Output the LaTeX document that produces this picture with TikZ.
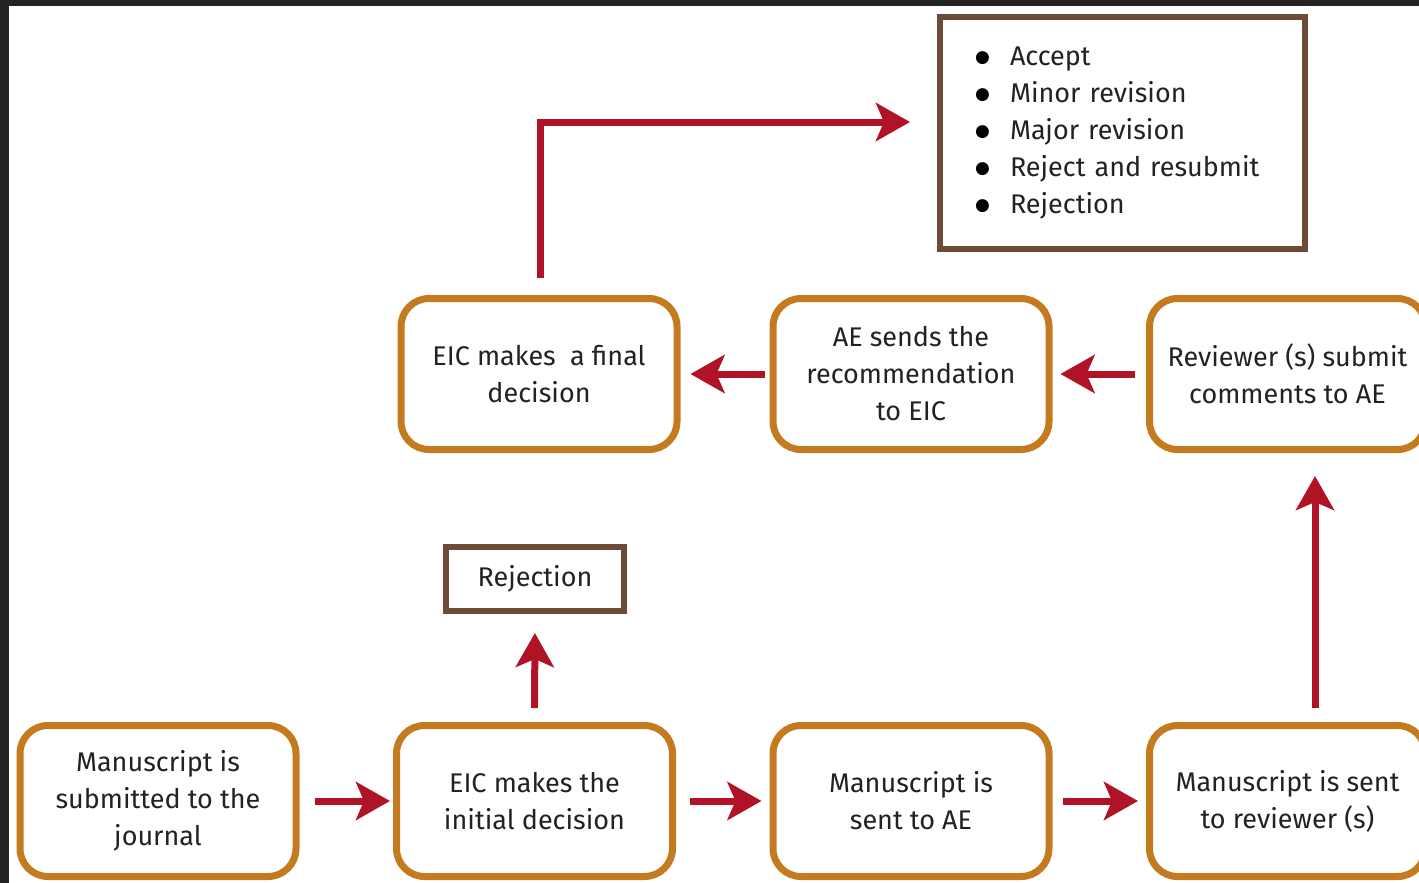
\documentclass[tikz,border=0pt]{standalone}
\usepackage{fontspec}
\setmainfont{Fira Sans}
\newfontfamily\symbolfont{DejaVu Sans}
\usetikzlibrary{arrows.meta}
\definecolor{frame}{HTML}{232323}
\definecolor{stepline}{HTML}{C47A1F}
\definecolor{outline}{HTML}{6E4B38}
\definecolor{flow}{HTML}{B01226}
\definecolor{ink}{HTML}{222222}
% round list bullet followed by a fixed gap
\newcommand{\itembullet}{\makebox[35pt][l]{\raisebox{3pt}{\textcolor{black}{\symbolfont\fontsize{17}{17}\selectfont ●}}}}
\begin{document}
\begin{tikzpicture}[x=1pt,y=-1pt,
  stepbox/.style={draw=stepline, line width=7pt, rounded corners=28pt, fill=white,
    minimum width=276pt, minimum height=151pt, inner sep=0pt, align=center,
    text=ink, font=\fontsize{27}{37}\selectfont},
  resultbox/.style={draw=outline, line width=6pt, fill=white, inner sep=0pt,
    text=ink, font=\fontsize{27}{37}\selectfont},
  flowarrow/.style={draw=flow, line width=7pt,
    -{Stealth[length=34pt,width=38pt,inset=8pt]}}]
\useasboundingbox (0,0) rectangle (1419,883);
\fill[white] (0,0) rectangle (1419,883);
% dark frame along the top and left edges
\fill[frame] (0,0) rectangle (1419,6);
\fill[frame] (0,0) rectangle (9,883);

% lower row
\node[stepbox] (sub)  at (158,801)    {Manuscript is\\submitted to the\\journal};
\node[stepbox] (init) at (534.5,801)  {EIC makes the\\initial decision};
\node[stepbox] (sent) at (911,801)    {Manuscript is\\sent to AE};
\node[stepbox] (rev)  at (1287.5,801) {Manuscript is sent\\to reviewer (s)};

% upper row
\node[stepbox] (final) at (539,374)    {EIC makes\ \ a final\\decision};
\node[stepbox] (rec)   at (911,374)    {AE sends the\\recommendation\\to EIC};
\node[stepbox] (comm)  at (1287.5,374) {Reviewer (s) submit\\comments to AE};

% outcome boxes
\node[resultbox, minimum width=178pt, minimum height=64pt] (reject) at (535,579) {Rejection};
\node[resultbox, minimum width=365pt, minimum height=232pt, text width=295pt, align=left] (outcomes) at (1122.5,133)
  {\itembullet Accept\\\itembullet Minor revision\\\itembullet Major revision\\\itembullet Reject and resubmit\\\itembullet Rejection};

% connectors
\draw[flowarrow, shorten <=15pt, shorten >=3pt] (sub) -- (init);
\draw[flowarrow, shorten <=14pt, shorten >=8pt] (init) -- (sent);
\draw[flowarrow, shorten <=10pt, shorten >=8pt] (sent) -- (rev);
\draw[flowarrow, shorten <=14pt, shorten >=23pt] ([xshift=27.5pt]rev.north) -- ([xshift=27.5pt]comm.south);
\draw[flowarrow, shorten <=11pt, shorten >=8pt] (comm) -- (rec);
\draw[flowarrow, shorten <=5pt, shorten >=10pt] (rec) -- (final);
\draw[flowarrow, shorten <=14pt, shorten >=19pt] (init.north) -- (reject.south);
\draw[flowarrow, shorten <=17pt, shorten >=27pt] ([xshift=1pt]final.north) |- ([yshift=11pt]outcomes.west);
\end{tikzpicture}
\end{document}
